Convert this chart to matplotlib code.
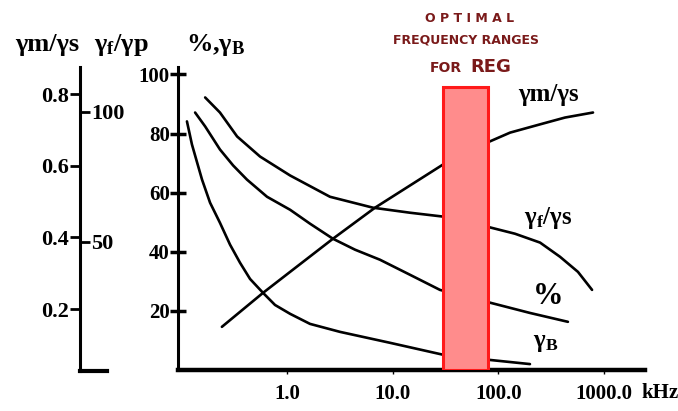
import numpy as np
import matplotlib
matplotlib.use('Agg')
import matplotlib.pyplot as plt

plt.rcParams['font.family'] = ['Liberation Serif', 'DejaVu Serif']
plt.rcParams['font.weight'] = 'bold'
plt.rcParams['mathtext.default'] = 'regular'

# data (frequency in kHz, value on the % scale)
freq_gm = [0.242, 0.593, 1.07, 2.72, 6.80, 29.9, 78, 129, 248, 427, 786]
val_gm = [14.6, 26.1, 33.2, 44.4, 54.9, 69.5, 76.9, 80.3, 83.1, 85.4, 87.1]

freq_gf = [0.168, 0.232, 0.337, 0.556, 1.07, 2.55, 6.52, 14.6, 29.9, 78, 143.6, 248, 383, 566, 770]
val_gf = [92.2, 87.1, 79.0, 72.2, 65.8, 58.6, 54.9, 53.2, 51.9, 48.5, 46.1, 43.1, 38.3, 33.2, 27.1]

freq_pct = [0.135, 0.168, 0.232, 0.309, 0.418, 0.647, 1.07, 1.65, 2.72, 4.40, 7.58, 14.6, 28.0, 85, 199, 455]
val_pct = [87.1, 82.4, 74.6, 69.2, 64.4, 58.6, 54.2, 49.5, 44.4, 40.7, 37.3, 32.2, 27.1, 22.7, 19.3, 16.3]

freq_gb = [0.113, 0.126, 0.141, 0.157, 0.187, 0.232, 0.289, 0.359, 0.447, 0.593, 0.770,
           1.07, 1.65, 3.17, 9.43, 30.5, 83.3, 199]
val_gb = [84.1, 76.3, 70.2, 64.4, 56.6, 49.8, 42.4, 36.3, 30.8, 26.1, 22.0,
          19.0, 15.6, 12.9, 9.2, 5.1, 3.4, 2.0]

reg_lo, reg_hi, reg_top = 30, 80, 95.6

x_ticks = [1, 10, 100, 1000]
x_labels = ['1.0', '10.0', '100.0', '1000.0']
pct_ticks = [20, 40, 60, 80, 100]
ratio_ticks = [0.2, 0.4, 0.6, 0.8]
fp_ticks = [50, 100]

W, H = 678, 411


def px_rect(x0, y0, x1, y1):
    return [x0 / W, 1 - y1 / H, (x1 - x0) / W, (y1 - y0) / H]


fig = plt.figure(figsize=(W / 100, H / 100), dpi=100)

# main axes
ax = fig.add_axes(px_rect(178, 67, 645, 370))
ax.set_xscale('log')
ax.set_xlim(0.093, 2440)
ax.set_ylim(0, 102.5)
ax.patch.set_visible(False)
for s in ['top', 'right']:
    ax.spines[s].set_visible(False)
ax.spines['left'].set_linewidth(2.2)
ax.spines['bottom'].set_linewidth(3.2)

ax.bar(reg_lo, reg_top, width=reg_hi - reg_lo, align='edge',
       color='#ff8c8c', edgecolor='#ff1a1a', linewidth=2.2, zorder=3)

for f, v in [(freq_gm, val_gm), (freq_gf, val_gf), (freq_pct, val_pct), (freq_gb, val_gb)]:
    ax.plot(f, v, color='black', linewidth=1.9, solid_capstyle='round',
            solid_joinstyle='round', zorder=2)

ax.set_xticks(x_ticks)
ax.set_xticklabels(x_labels)
ax.minorticks_off()
ax.tick_params(axis='x', direction='out', length=3, width=1, labelsize=15, pad=7)
ax.set_yticks(pct_ticks)
ax.tick_params(axis='y', direction='inout', length=12, width=2.5, labelsize=15, pad=0)

ax.text(295, 93.2, 'γm/γs', fontsize=18, ha='center', va='center')
ax.text(295, 51.5, 'γ$_{f}$/γs', fontsize=18, ha='center', va='center')
ax.text(295, 24.7, '%', fontsize=22, ha='center', va='center')
ax.text(280, 9.2, 'γ$_{B}$', fontsize=18, ha='center', va='center')

# left stand-alone axis (γm/γs scale)
axl = fig.add_axes(px_rect(80, 67, 107, 371))
axl.set_ylim(0.027, 0.876)
axl.patch.set_visible(False)
for s in ['top', 'right']:
    axl.spines[s].set_visible(False)
axl.spines['left'].set_linewidth(2.2)
axl.spines['bottom'].set_linewidth(3)
axl.set_xticks([])
axl.set_yticks(ratio_ticks)
axl.tick_params(axis='y', direction='out', length=7, width=2, labelsize=16, pad=1)

# γf/γp scale, ticks pointing right of the same line
axr = fig.add_axes(px_rect(50, 67, 80, 371))
axr.set_ylim(0.38, 117.3)
axr.patch.set_visible(False)
for s in axr.spines.values():
    s.set_visible(False)
axr.set_xticks([])
axr.yaxis.tick_right()
axr.set_yticks(fp_ticks)
axr.tick_params(axis='y', direction='out', length=7, width=2, labelsize=16, pad=1)

# headers
fig.text(47 / W, 1 - 45 / H, 'γm/γs', fontsize=19, ha='center', va='center')
fig.text(121 / W, 1 - 45 / H, 'γ$_{f}$/γp', fontsize=19, ha='center', va='center')
fig.text(216 / W, 1 - 45 / H, '%,γ$_{B}$', fontsize=19, ha='center', va='center')
fig.text(660 / W, 1 - 393 / H, 'kHz', fontsize=15, ha='center', va='center')

red = '#7a1a1a'
fig.text(470 / W, 1 - 18 / H, 'O P T I M A L', fontsize=9, color=red, ha='center', va='center',
         family='DejaVu Sans', weight='bold')
fig.text(466 / W, 1 - 40 / H, 'FREQUENCY RANGES', fontsize=9, color=red, ha='center', va='center',
         family='DejaVu Sans', weight='bold')
fig.text(462 / W, 1 - 68 / H, 'FOR', fontsize=10, color=red, ha='right', va='center',
         family='DejaVu Sans', weight='bold')
fig.text(470 / W, 1 - 67 / H, 'REG', fontsize=13, color=red, ha='left', va='center',
         family='DejaVu Sans', weight='bold')

fig.savefig('out.png', dpi=100)
